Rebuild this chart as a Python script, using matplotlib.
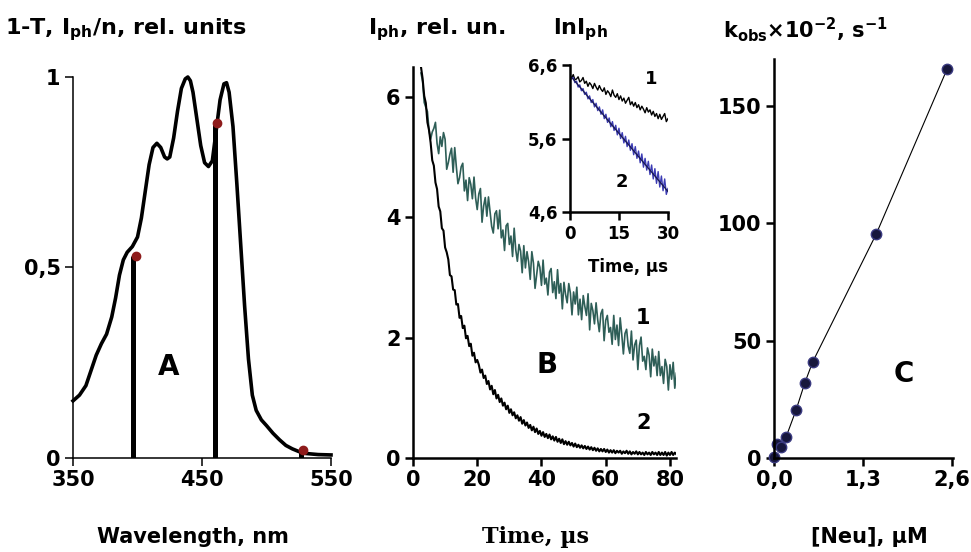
import numpy as np
import matplotlib
matplotlib.use('Agg')
import matplotlib.pyplot as plt

plt.rcParams['font.family'] = ['DejaVu Sans']
plt.rcParams['font.weight'] = 'bold'
plt.rcParams['mathtext.fontset'] = 'dejavusans'

# ── A: absorption spectrum (1-T) and photoluminescence action points
wavelength = [350, 355, 360, 364, 368, 372, 376, 380, 383, 386, 389, 392, 396, 400,
              403, 406, 409, 412, 415, 418, 421, 423, 425, 428, 431, 434, 437, 439,
              441, 443, 446, 449, 452, 455, 458, 461, 464, 467, 469, 471, 474, 477,
              480, 483, 486, 489, 492, 496, 500, 505, 510, 515, 520, 525, 530, 540, 550]
absorb = [0.15, 0.165, 0.19, 0.23, 0.27, 0.30, 0.325, 0.37, 0.42, 0.48, 0.52, 0.54,
          0.555, 0.58, 0.63, 0.70, 0.77, 0.815, 0.826, 0.815, 0.79, 0.785, 0.79, 0.84,
          0.91, 0.97, 0.995, 1.0, 0.99, 0.96, 0.89, 0.82, 0.775, 0.765, 0.78, 0.86,
          0.94, 0.982, 0.985, 0.96, 0.87, 0.72, 0.56, 0.40, 0.26, 0.165, 0.125, 0.10,
          0.085, 0.065, 0.048, 0.033, 0.024, 0.017, 0.012, 0.009, 0.008]
bar_nm = [396.5, 460.0, 527.0]
dot_nm = [398.5, 461.5, 528.5]
iph_val = [0.53, 0.88, 0.02]

# ── B: photoluminescence decays, 0.5 us sampling from 2.5 us
trace1 = [6.40, 6.26, 5.91, 5.83, 5.76, 5.45, 5.30, 5.42, 5.48, 5.58,
          5.23, 5.06, 5.34, 5.18, 5.41, 5.30, 4.80, 4.91, 5.05, 5.15,
          4.75, 5.16, 4.84, 4.56, 4.66, 4.84, 4.90, 4.44, 4.62, 4.28,
          4.66, 4.55, 4.31, 4.67, 4.32, 4.13, 4.39, 4.48, 3.92, 4.19,
          4.33, 4.02, 4.34, 4.10, 3.85, 3.74, 4.06, 4.11, 3.81, 4.12,
          3.66, 3.79, 3.45, 3.86, 3.90, 3.55, 3.69, 3.35, 3.82, 3.46,
          3.27, 3.55, 3.44, 3.08, 3.53, 3.16, 3.43, 3.26, 2.97, 3.43,
          3.24, 2.82, 3.05, 3.27, 3.17, 2.87, 3.29, 2.89, 2.99, 2.71,
          3.09, 3.15, 2.75, 2.93, 2.65, 3.13, 2.74, 2.90, 2.48, 2.92,
          2.72, 2.58, 2.90, 2.74, 2.38, 2.76, 2.56, 2.84, 2.38, 2.64,
          2.30, 2.70, 2.52, 2.37, 2.73, 2.13, 2.57, 2.45, 2.23, 2.58,
          2.30, 2.10, 2.40, 2.47, 1.95, 2.29, 2.37, 2.09, 2.17, 1.89,
          2.37, 1.97, 2.21, 1.87, 2.33, 2.05, 1.73, 2.07, 2.14, 1.86,
          1.74, 2.11, 1.63, 1.88, 1.96, 1.47, 1.87, 2.01, 1.61, 1.69,
          1.47, 1.83, 1.71, 1.35, 1.81, 1.53, 1.69, 1.37, 1.77, 1.37,
          1.52, 1.24, 1.64, 1.52, 1.13, 1.55, 1.31, 1.59, 1.16, 1.41]
trace2 = [6.50, 6.31, 6.02, 5.90, 5.58, 5.45, 5.24, 4.95, 4.86, 4.58,
          4.47, 4.18, 4.10, 3.82, 3.78, 3.50, 3.42, 3.30, 3.04, 3.02,
          2.80, 2.79, 2.55, 2.56, 2.33, 2.36, 2.16, 2.20, 1.99, 2.03,
          1.86, 1.90, 1.70, 1.75, 1.59, 1.63, 1.55, 1.42, 1.47, 1.33,
          1.37, 1.23, 1.28, 1.14, 1.20, 1.06, 1.13, 0.99, 1.05, 0.93,
          0.99, 0.87, 0.92, 0.81, 0.87, 0.75, 0.81, 0.71, 0.76, 0.66,
          0.71, 0.62, 0.68, 0.57, 0.63, 0.54, 0.59, 0.50, 0.55, 0.46,
          0.52, 0.43, 0.49, 0.40, 0.45, 0.37, 0.43, 0.35, 0.40, 0.33,
          0.39, 0.31, 0.36, 0.29, 0.35, 0.27, 0.32, 0.25, 0.31, 0.23,
          0.28, 0.22, 0.27, 0.21, 0.25, 0.19, 0.24, 0.18, 0.22, 0.17,
          0.21, 0.16, 0.20, 0.15, 0.19, 0.14, 0.18, 0.13, 0.17, 0.12,
          0.16, 0.11, 0.15, 0.11, 0.15, 0.10, 0.14, 0.09, 0.13, 0.09,
          0.13, 0.08, 0.12, 0.09, 0.12, 0.07, 0.11, 0.08, 0.12, 0.07,
          0.11, 0.06, 0.10, 0.07, 0.11, 0.06, 0.10, 0.06, 0.09, 0.05,
          0.10, 0.06, 0.09, 0.05, 0.10, 0.06, 0.09, 0.05, 0.10, 0.05,
          0.09, 0.05, 0.10, 0.04, 0.09, 0.05, 0.10, 0.05, 0.09, 0.06]
t_main = 2.5 + 0.5 * np.arange(len(trace1))

# inset: ln(I_ph), 0.5 us sampling from 0
ln1 = [6.45, 6.42, 6.47, 6.40, 6.41, 6.44, 6.37, 6.39, 6.43, 6.35,
       6.38, 6.31, 6.36, 6.33, 6.28, 6.35, 6.30, 6.26, 6.32, 6.27,
       6.24, 6.29, 6.20, 6.25, 6.22, 6.17, 6.26, 6.19, 6.16, 6.21,
       6.13, 6.18, 6.11, 6.15, 6.08, 6.12, 6.16, 6.06, 6.10, 6.04,
       6.09, 6.02, 6.06, 5.99, 6.04, 6.00, 5.95, 6.02, 5.96, 5.99,
       5.92, 5.97, 5.90, 5.94, 5.87, 5.93, 5.86, 5.90, 5.94, 5.83,
       5.87]
ln2 = [6.46, 6.41, 6.43, 6.36, 6.38, 6.30, 6.33, 6.25, 6.28, 6.20,
       6.23, 6.14, 6.18, 6.09, 6.13, 6.03, 6.08, 5.98, 6.03, 5.93,
       5.99, 5.87, 5.93, 5.82, 5.88, 5.76, 5.83, 5.71, 5.78, 5.65,
       5.74, 5.60, 5.68, 5.54, 5.63, 5.49, 5.58, 5.44, 5.53, 5.38,
       5.49, 5.33, 5.43, 5.27, 5.39, 5.21, 5.33, 5.17, 5.29, 5.11,
       5.24, 5.05, 5.19, 4.99, 5.15, 4.94, 5.09, 4.89, 5.05, 4.84,
       4.92]
t_inset = 0.5 * np.arange(len(ln1))
fit_t = [0, 30]
fit_ln2 = [6.46, 4.88]

# ── C: k_obs vs [Neu]
neu = [0.0, 0.043, 0.097, 0.179, 0.324, 0.449, 0.566, 1.498, 2.537]
kobs = [0.3, 5.8, 4.5, 9.1, 20.5, 31.8, 40.9, 95.5, 165.9]

fig = plt.figure(figsize=(9.71, 5.52), dpi=100)


def style(ax, lw, size):
    for s in ['top', 'right']:
        ax.spines[s].set_visible(False)
    for s in ['left', 'bottom']:
        ax.spines[s].set_linewidth(lw)
    ax.tick_params(direction='out', length=5.5, width=lw, labelsize=size)


# ── panel A
axA = fig.add_axes([0.0752, 0.1703, 0.2657, 0.6902])
axA.plot(wavelength, absorb, color='black', lw=2.6, solid_joinstyle='round', clip_on=False)
axA.vlines(bar_nm, 0, iph_val, color='black', lw=3.6)
axA.plot(dot_nm, iph_val, 'o', color='#8e1b1b', ms=6, clip_on=False)
axA.set_xlim(350, 550)
axA.set_ylim(0, 1)
axA.set_xticks([350, 450, 550])
axA.set_yticks([0, 0.5, 1])
axA.set_yticklabels(['0', '0,5', '1'])
style(axA, 1.1, 15)
axA.text(424, 0.24, 'A', fontsize=20, ha='center', va='center')

# ── panel B
axB = fig.add_axes([0.4253, 0.1703, 0.2713, 0.7083])
axB.plot(t_main, trace1, color='#2e5e57', lw=1.2)
axB.plot(t_main, trace2, color='black', lw=1.5)
axB.set_xlim(0, 82)
axB.set_ylim(0, 6.5)
axB.set_xticks([0, 20, 40, 60, 80])
axB.set_yticks([0, 2, 4, 6])
style(axB, 1.8, 15)
axB.text(41.7, 1.55, 'B', fontsize=20, ha='center', va='center')
axB.text(71.7, 2.32, '1', fontsize=15, ha='center', va='center')
axB.text(71.7, 0.59, '2', fontsize=15, ha='center', va='center')

# inset
axI = fig.add_axes([0.587, 0.6159, 0.1009, 0.2663])
axI.patch.set_alpha(0)
axI.plot(t_inset, ln1, color='black', lw=1.0)
axI.plot(t_inset, ln2, color='#3c3cb4', lw=1.0)
axI.plot(fit_t, fit_ln2, color='#1a1a50', lw=0.9)
axI.set_xlim(0, 30)
axI.set_ylim(4.6, 6.6)
axI.set_xticks([0, 15, 30])
axI.set_yticks([4.6, 5.6, 6.6])
axI.set_yticklabels(['4,6', '5,6', '6,6'])
style(axI, 1.8, 12)
axI.text(24.9, 6.41, '1', fontsize=13, ha='center', va='center')
axI.text(15.8, 5.01, '2', fontsize=13, ha='center', va='center')

# ── panel C
axC = fig.add_axes([0.7971, 0.1703, 0.1843, 0.7228])
axC.plot(neu[2:], kobs[2:], color='black', lw=0.8)
axC.plot(neu, kobs, 'o', color='#17173c', mec='#3a3a80', ms=7.5, clip_on=False)
axC.set_xlim(0, 2.62)
axC.set_ylim(0, 170)
axC.set_xticks([0, 1.3, 2.6])
axC.set_xticklabels(['0,0', '1,3', '2,6'])
axC.set_yticks([0, 50, 100, 150])
style(axC, 1.8, 15)
axC.text(1.9, 35.6, 'C', fontsize=20, ha='center', va='center')

# ── axis titles
fig.text(0.005, 0.9457, '1-T, I$_{\\mathbf{ph}}$/n, rel. units', fontsize=16, va='center')
fig.text(0.379, 0.9457, 'I$_{\\mathbf{ph}}$, rel. un.', fontsize=16, va='center')
fig.text(0.570, 0.9457, 'lnI$_{\\mathbf{ph}}$', fontsize=16, va='center')
fig.text(0.745, 0.9457, 'k$_{\\mathbf{obs}}$×10$^{\\mathbf{-2}}$, s$^{\\mathbf{-1}}$',
         fontsize=15, va='center')
fig.text(0.647, 0.516, 'Time, µs', fontsize=12, ha='center', va='center')
fig.text(0.199, 0.027, 'Wavelength, nm', fontsize=15, ha='center', va='center')
fig.text(0.551, 0.027, 'Time, µs', fontsize=16, ha='center', va='center',
         family='DejaVu Serif')
fig.text(0.895, 0.027, '[Neu], µM', fontsize=15, ha='center', va='center')

fig.savefig('out.png', dpi=100)
